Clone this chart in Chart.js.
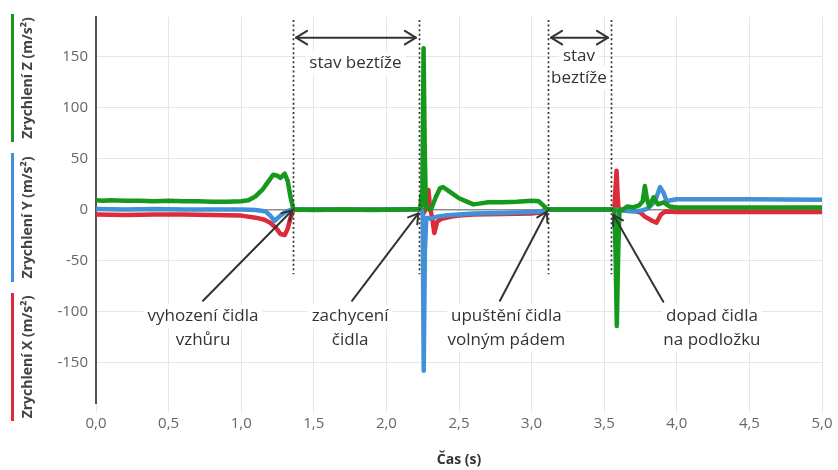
<!DOCTYPE html>
<html><head><meta charset="utf-8">
<script src="https://cdn.jsdelivr.net/npm/chart.js@4.4.0/dist/chart.umd.min.js"></script>
<style>html,body{margin:0;padding:0;background:#fff}#wrap{width:838px;height:470px}</style>
</head><body><div id="wrap"><canvas id="c" width="838" height="470" style="width:838px;height:470px"></canvas></div>
<script>
// ---- data (time in s, acceleration in m/s²) ----
const zTime = [0,0.05,0.1,0.2,0.3,0.4,0.5,0.6,0.7,0.8,0.9,1.0,1.05,1.1,1.15,1.19,1.22,1.25,1.27,1.30,1.32,1.34,1.36,1.5,1.7,1.9,2.1,2.22,2.235,2.24,2.247,2.256,2.264,2.272,2.29,2.31,2.34,2.37,2.39,2.42,2.46,2.5,2.55,2.6,2.65,2.7,2.8,2.9,3.0,3.05,3.08,3.11,3.3,3.5,3.57,3.578,3.587,3.596,3.605,3.63,3.66,3.7,3.74,3.765,3.78,3.795,3.81,3.84,3.87,3.91,3.95,4.0,4.3,4.6,5.0];
const zVals = [9,8.5,9,8.5,8.5,8,8.5,8,8,7.5,7.5,8,9,13,20,28,34,33,31,35,28,12,0,-0.5,0,-0.5,0,0.5,2,14,4,158,60,2,0,1,12,21,22,19,15,11,8,5,6,7,7,7.5,8.5,8,4,0,0,0,0,-40,-114,-45,-1,0,3,2,4,8,23,10,3,12,5,7,3,2,2,2,2];

const yTime = [0,0.2,0.4,0.6,0.8,1.0,1.1,1.17,1.2,1.23,1.27,1.31,1.35,2.24,2.25,2.257,2.265,2.275,2.3,2.35,2.4,2.5,2.6,2.8,3.0,3.06,3.1,3.58,3.62,3.7,3.76,3.8,3.85,3.885,3.91,3.93,3.96,4.0,4.5,5.0];
const yVals = [0.5,0,0.5,0,0,0,-0.5,-2,-6,-11,-6,-2,0,0,-5,-158,-40,-8,-9,-7,-6,-5,-4,-3.5,-2.5,-2,0,0,-1,-2,-1,1,8,22,16,8,9,10,10,9.5];

const xTime = [0,0.2,0.4,0.6,0.8,1.0,1.1,1.16,1.2,1.24,1.27,1.3,1.32,1.34,1.36,2.24,2.26,2.28,2.29,2.3,2.315,2.33,2.35,2.38,2.45,2.5,2.6,2.8,3.0,3.06,3.1,3.57,3.577,3.585,3.593,3.6,3.62,3.7,3.75,3.78,3.83,3.86,3.89,3.92,4.0,5.0];
const xVals = [-5,-5.5,-5,-5,-5.5,-6,-8,-10,-13,-18,-24,-25,-19,-8,0,0,-3,5,19,2,-8,-23,-12,-9,-7,-6,-5,-4.5,-4,-3,0,0,18,38,12,-2,0,-1,-3,-7,-11,-13,-5,-2,-2.5,-2.5];

const seriesNames = ['Zrychlení Z (m/s²)','Zrychlení Y (m/s²)','Zrychlení X (m/s²)'];
const seriesColors = ['#16981c','#4290d8','#dd2b3a'];
const yTicks = [-150,-100,-50,0,50,100,150];
const xTitle = 'Čas (s)';

// ---- annotations (in data coordinates) ----
const eventTimes = [1.357, 2.224, 3.113, 3.547];
const dotRange = [185.6, -63.5];
const spanArrows = [[1.357, 2.224], [3.113, 3.547]];
const spanArrowValue = 168.3;
const spanLabels = [
  {t:1.787, v:[143.3], lines:['stav beztíže']},
  {t:3.326, v:[150, 128.8], lines:['stav','beztíže']}
];
const eventLabels = [
  {t:0.737, v:[-104.8,-127.9], lines:['vyhození čidla','vzhůru'], from:[0.737,-89.4], to:[1.35,-1]},
  {t:1.750, v:[-104.8,-127.9], lines:['zachycení','čidla'], from:[1.763,-89.4], to:[2.22,-3.8]},
  {t:2.826, v:[-104.8,-127.9], lines:['upuštění čidla','volným pádem'], from:[2.782,-89.4], to:[3.104,-2.2]},
  {t:4.242, v:[-104.8,-127.9], lines:['dopad čidla','na podložku'], from:[3.907,-90.4], to:[3.563,-5.5]}
];

const toPts = (ts, vs) => ts.map((t,i)=>({x:t, y:vs[i]}));

const ANN_FONT = '17px "Open Sans"';
const TEXT_COLOR = '#333';

function labelBoxes(chart, drawText){
  const {ctx, scales:{x, y}} = chart;
  ctx.save();
  ctx.font = ANN_FONT;
  ctx.textAlign = 'center';
  ctx.textBaseline = 'middle';
  [...spanLabels, ...eventLabels].forEach(l=>{
    const cx = x.getPixelForValue(l.t);
    l.lines.forEach((s,i)=>{
      const cy = y.getPixelForValue(l.v[i]);
      const w = ctx.measureText(s).width;
      if (!drawText){
        ctx.fillStyle = '#fff';
        ctx.fillRect(cx - w/2 - 4, cy - 12, w + 8, 24);
      } else {
        ctx.fillStyle = TEXT_COLOR;
        ctx.fillText(s, cx, cy);
      }
    });
  });
  ctx.restore();
}

function arrowHead(ctx, x0, y0, x1, y1, len){
  const a = Math.atan2(y1-y0, x1-x0);
  ctx.beginPath();
  ctx.moveTo(x1 - len*Math.cos(a - 0.55), y1 - len*Math.sin(a - 0.55));
  ctx.lineTo(x1, y1);
  ctx.lineTo(x1 - len*Math.cos(a + 0.55), y1 - len*Math.sin(a + 0.55));
  ctx.stroke();
}

const annot = {
  id: 'annot',
  beforeDatasetsDraw(chart){ labelBoxes(chart, false); },
  afterDatasetsDraw(chart){
    const {ctx, scales:{x, y}} = chart;
    ctx.save();
    // dotted event lines
    ctx.strokeStyle = '#333';
    ctx.lineWidth = 1.7;
    ctx.setLineDash([2,2.6]);
    eventTimes.forEach(t=>{
      const px = Math.round(x.getPixelForValue(t)) + 0.5;
      ctx.beginPath();
      ctx.moveTo(px, y.getPixelForValue(dotRange[0]));
      ctx.lineTo(px, y.getPixelForValue(dotRange[1]));
      ctx.stroke();
    });
    ctx.setLineDash([]);
    // double arrows
    ctx.strokeStyle = '#333';
    ctx.lineWidth = 2;
    ctx.lineCap = 'round';
    ctx.lineJoin = 'round';
    const ay = y.getPixelForValue(spanArrowValue);
    spanArrows.forEach(([a,b])=>{
      const x0 = x.getPixelForValue(a) + 3, x1 = x.getPixelForValue(b) - 3;
      ctx.beginPath(); ctx.moveTo(x0, ay); ctx.lineTo(x1, ay); ctx.stroke();
      arrowHead(ctx, x1, ay, x0, ay, 13);
      arrowHead(ctx, x0, ay, x1, ay, 13);
    });
    // event arrows
    eventLabels.forEach(l=>{
      const x0 = x.getPixelForValue(l.from[0]), y0 = y.getPixelForValue(l.from[1]);
      const x1 = x.getPixelForValue(l.to[0]), y1 = y.getPixelForValue(l.to[1]);
      ctx.beginPath(); ctx.moveTo(x0, y0); ctx.lineTo(x1, y1); ctx.stroke();
      arrowHead(ctx, x0, y0, x1, y1, 11);
    });
    ctx.restore();
    labelBoxes(chart, true);
  },
  afterDraw(chart){
    const {ctx} = chart;
    // stacked y-axis titles with colour bars
    const segs = [[14,142],[153,282],[293,421]];
    ctx.save();
    segs.forEach((s,i)=>{
      ctx.strokeStyle = seriesColors[i];
      ctx.lineWidth = 3;
      ctx.beginPath(); ctx.moveTo(12.5, s[0]); ctx.lineTo(12.5, s[1]); ctx.stroke();
      ctx.save();
      ctx.translate(28, (s[0]+s[1])/2);
      ctx.rotate(-Math.PI/2);
      ctx.font = 'bold 14px "Open Sans"';
      ctx.fillStyle = '#444';
      ctx.textAlign = 'center';
      ctx.textBaseline = 'middle';
      ctx.fillText(seriesNames[i], 0, 0);
      ctx.restore();
    });
    ctx.restore();
  }
};

new Chart(document.getElementById('c'), {
  type: 'line',
  data: {
    datasets: [
      {label: seriesNames[0], data: toPts(zTime, zVals), borderColor: seriesColors[0], order: 1},
      {label: seriesNames[1], data: toPts(yTime, yVals), borderColor: seriesColors[1], order: 2},
      {label: seriesNames[2], data: toPts(xTime, xVals), borderColor: seriesColors[2], order: 3}
    ]
  },
  options: {
    responsive: false,
    animation: false,
    devicePixelRatio: 1,
    layout: {padding: {left: 0, right: 16, top: 10, bottom: 0}},
    elements: {
      line: {borderWidth: 4.5, tension: 0, borderJoinStyle: 'round', borderCapStyle: 'round'},
      point: {radius: 0}
    },
    plugins: {legend: {display: false}, tooltip: {enabled: false}},
    scales: {
      x: {
        type: 'linear', min: 0, max: 5,
        ticks: {stepSize: 0.5, color: '#666', font: {family: '"Open Sans"', size: 15}, padding: 2,
                callback: v => v.toFixed(1).replace('.', ','), maxRotation: 0},
        grid: {color: '#e6e6e6', tickLength: 10, drawTicks: true},
        border: {display: false},
        title: {display: true, text: xTitle, color: '#333', font: {family: '"Open Sans"', size: 14, weight: 'bold'}, padding: {top: 0, bottom: 2}},
        afterFit: s => { s.height = 67; }
      },
      y: {
        type: 'linear', min: -189.5, max: 188.5,
        afterBuildTicks: s => { s.ticks = yTicks.map(v => ({value: v})); },
        ticks: {color: '#666', font: {family: '"Open Sans"', size: 15}, padding: 8},
        grid: {drawTicks: false, color: c => (c.tick && c.tick.value === 0) ? '#8c8c8c' : '#e6e6e6',
               lineWidth: c => (c.tick && c.tick.value === 0) ? 1.5 : 1},
        border: {display: true, color: '#555', width: 2},
        afterFit: s => { s.width = 96; }
      }
    }
  },
  plugins: [annot]
});
</script>
</body></html>
